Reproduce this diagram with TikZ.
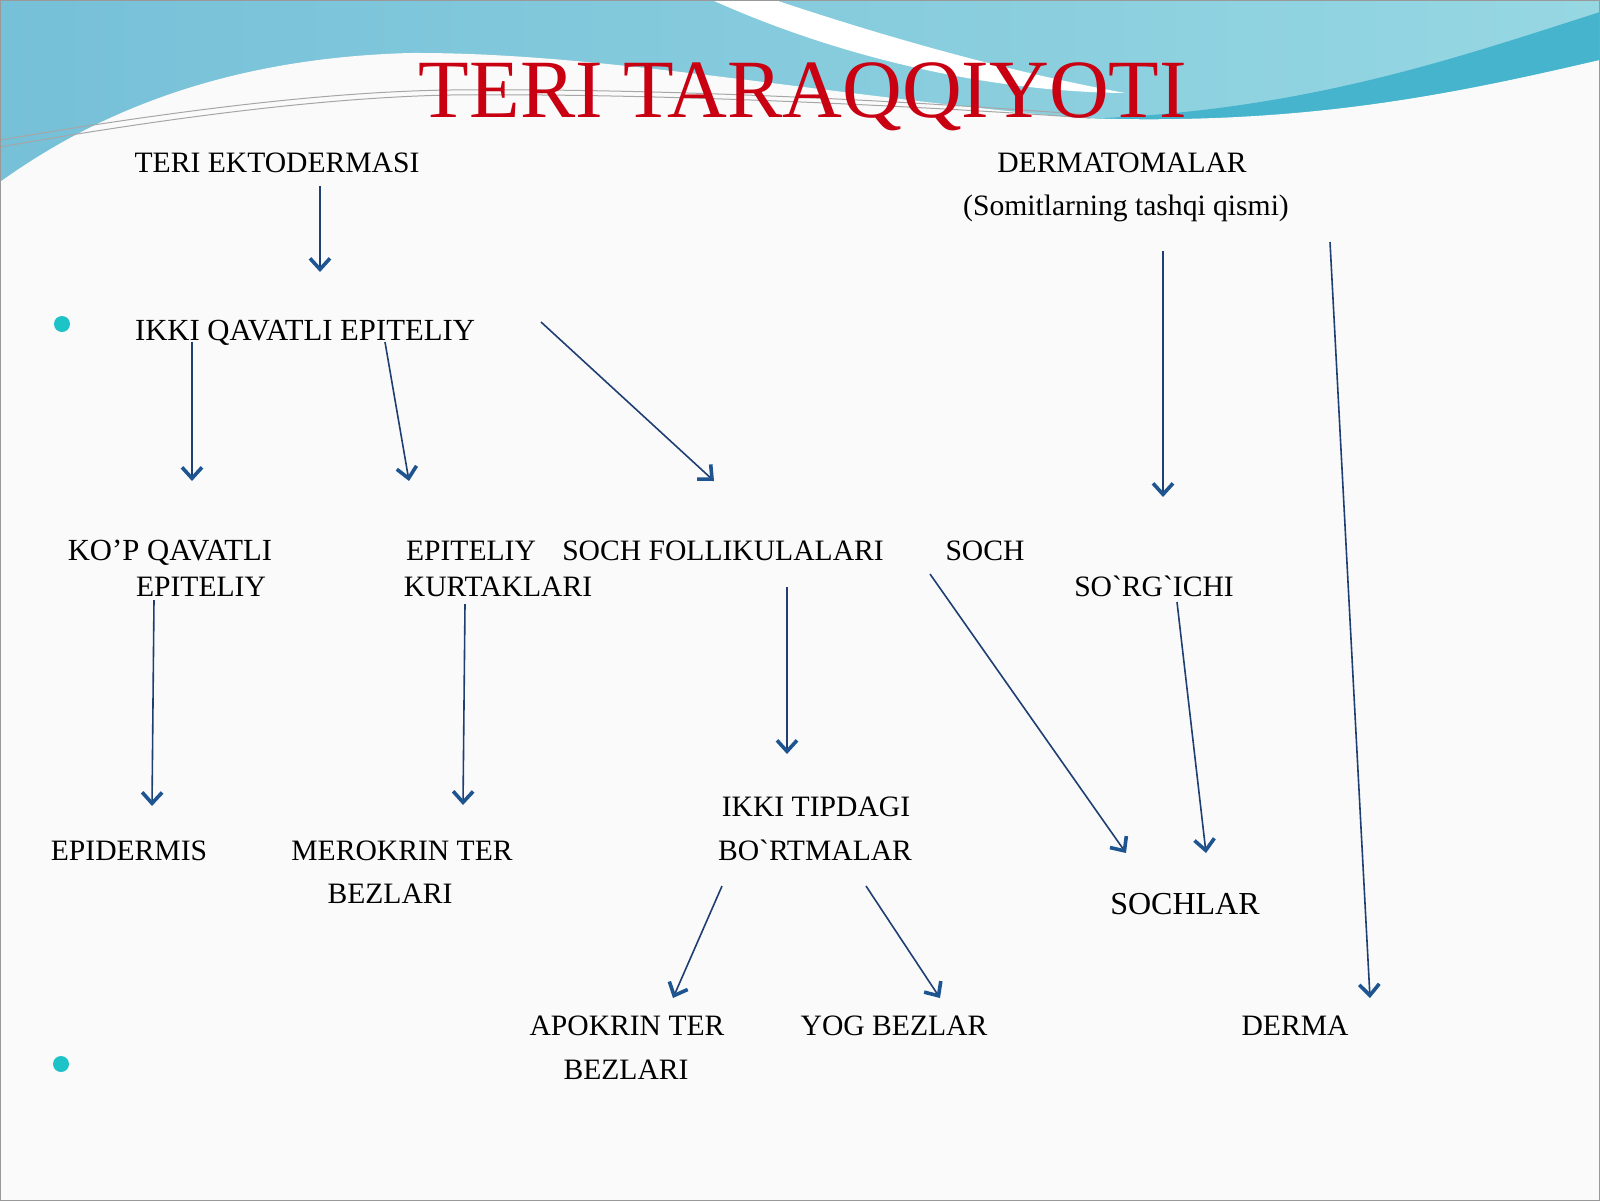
\documentclass[tikz,border=0pt]{standalone}
\usepackage{fontspec}
\newfontfamily\lib{Liberation Serif}
\usetikzlibrary{arrows.meta}
\definecolor{arrcol}{RGB}{31,63,115}
\definecolor{headcol}{RGB}{30,85,145}
\definecolor{titlered}{RGB}{200,0,18}
\definecolor{bulcol}{RGB}{30,195,200}
\definecolor{bgleft}{RGB}{118,192,216}
\definecolor{bgright}{RGB}{150,215,226}
\definecolor{band}{RGB}{70,180,205}
\definecolor{pagebg}{RGB}{250,250,250}
\tikzset{
  lbl/.style={font=\lib\fontsize{14.8}{17}\selectfont, anchor=base, inner sep=0pt, text=black},
  lblw/.style={lbl, font=\lib\fontsize{15.35}{17}\selectfont},
  arr/.style={draw=arrcol, line width=0.8pt, -{Straight Barb[length=5.5pt,width=10pt,line width=1.8pt,color=headcol]}},
  bul/.style={circle, fill=bulcol, inner sep=0pt, minimum size=8pt}
}
\begin{document}
\begin{tikzpicture}[x=0.5pt,y=-0.5pt]
\useasboundingbox (0,0) rectangle (1600,1201);
% background
\fill[pagebg] (0,0) rectangle (1600,1201);
\shade[left color=bgleft, right color=bgright] (0,0) rectangle (1600,200);
\fill[band] (1080,119) .. controls (1300,112) and (1450,60) .. (1600,12)
  -- (1600,60) .. controls (1450,95) and (1300,126) .. (1080,121) -- cycle;
\fill[pagebg] (0,182) .. controls (100,110) and (230,58) .. (410,53)
  .. controls (600,52) and (820,95) .. (1080,118)
  .. controls (1300,126) and (1450,95) .. (1600,60)
  -- (1600,1201) -- (0,1201) -- cycle;
\fill[white] (712,0) -- (775,0) .. controls (880,35) and (1000,70) .. (1125,93)
  .. controls (1000,92) and (850,62) .. (712,0) -- cycle;
\draw[gray!70, line width=0.5pt] (0,140) .. controls (120,120) and (300,92) .. (450,90)
  .. controls (650,88) and (900,100) .. (1090,115);
\draw[gray!70, line width=0.5pt] (0,147) .. controls (120,126) and (300,98) .. (450,95)
  .. controls (650,93) and (900,105) .. (1090,118);
\draw[gray!80, line width=0.6pt] (0.5,0.5) rectangle (1599.5,1200.5);

% title
\node[anchor=base, inner sep=0pt, text=titlered, font=\lib\fontsize{41.4}{45}\selectfont] (title) at (803,117) {TERI TARAQQIYOTI};

% bullets
\node[bul] (b1) at (62,324) {};
\node[bul] (b2) at (61,1064) {};

% labels
\node[lbl] (tek) at (277,172) {TERI EKTODERMASI};
\node[lbl] (derm) at (1122,172) {DERMATOMALAR};
\node[lbl] (somit) at (1126,215) {(Somitlarning tashqi qismi)};
\node[lblw] (ikki) at (305,340) {IKKI QAVATLI EPITELIY};
\node[lblw] (kop1) at (170,560) {KO’P QAVATLI};
\node[lbl] (kop2) at (201,596) {EPITELIY};
\node[lbl] (epk1) at (471,560) {EPITELIY};
\node[lbl] (epk2) at (498,596) {KURTAKLARI};
\node[lbl] (sfol) at (723,560) {SOCH FOLLIKULALARI};
\node[lbl] (soch) at (985,560) {SOCH};
\node[lbl] (sorg) at (1154,596) {SO`RG`ICHI};
\node[lbl] (epid) at (129,860) {EPIDERMIS};
\node[lbl] (mer1) at (402,860) {MEROKRIN TER};
\node[lbl] (mer2) at (390,903) {BEZLARI};
\node[lbl] (ikt1) at (816,816) {IKKI TIPDAGI};
\node[lbl] (ikt2) at (815,860) {BO`RTMALAR};
\node[lbl, font=\lib\fontsize{16}{19}\selectfont] (sochlar) at (1185,914) {SOCHLAR};
\node[lbl] (apo1) at (627,1035) {APOKRIN TER};
\node[lbl] (apo2) at (626,1079) {BEZLARI};
\node[lbl] (yog) at (894,1035) {YOG BEZLAR};
\node[lbl] (derma) at (1295,1035) {DERMA};

% connector ends
\coordinate (s1) at (320,186);  \coordinate (e1) at (320,272);
\coordinate (s2) at (192,342);  \coordinate (e2) at (192,481);
\coordinate (s3) at (385,342);  \coordinate (e3) at (409,481);
\coordinate (s4) at (541,322);  \coordinate (e4) at (714,481);
\coordinate (s5) at (1163,251); \coordinate (e5) at (1163,497);
\coordinate (s6) at (1330,242); \coordinate (e6) at (1370,998);
\coordinate (s7) at (154,600);  \coordinate (e7) at (152,806);
\coordinate (s8) at (465,604);  \coordinate (e8) at (463,805);
\coordinate (s9) at (787,587);  \coordinate (e9) at (787,754);
\coordinate (s10) at (930,574); \coordinate (e10) at (1126,853);
\coordinate (s11) at (1177,602); \coordinate (e11) at (1206,853);
\coordinate (s12) at (722,886); \coordinate (e12) at (673,998);
\coordinate (s13) at (866,886); \coordinate (e13) at (940,998);

\foreach \i in {1,...,13} {\draw[arr] (s\i) -- (e\i);}
\end{tikzpicture}
\end{document}
